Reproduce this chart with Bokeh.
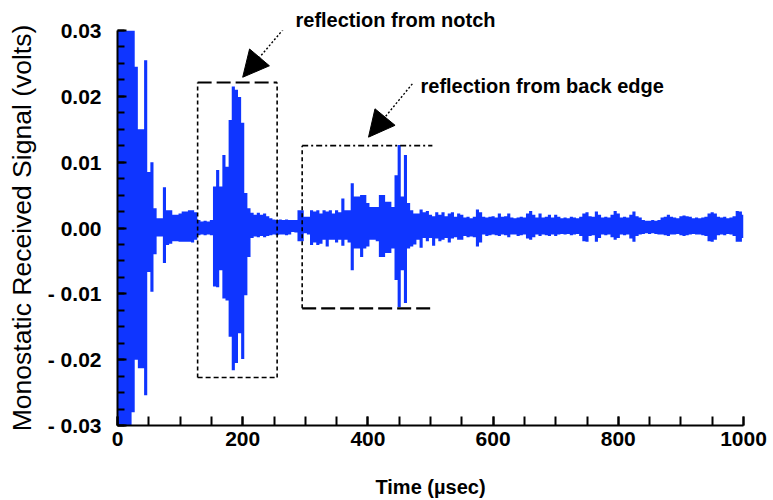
from bokeh.plotting import figure
from bokeh.models import Arrow, NormalHead, Label, FixedTicker, Range1d, Title
from bokeh.embed import file_html
from bokeh.resources import INLINE

# ---------------- data ----------------
TIME_US = list(range(0, 1001, 5))          # sample bins, microseconds

# upper envelope of the received signal in each 5 us bin (volts)
SIG_MAX = [
    0.03, 0.03, 0.03, 0.03, 0.03, 0.03, 0.0245, 0.015, 0.015, 0.0255,
    0.0085, 0.010, 0.003, 0.0015, 0.0015, 0.0062, 0.0027, 0.0027, 0.002, 0.002,
    0.0022, 0.0025, 0.0025, 0.0027, 0.0027, 0.0024, 0.0012, 0.0010, 0.0011, 0.0010,
    0.0012, 0.0063, 0.0088, 0.0063, 0.0111, 0.0093, 0.0164, 0.0215, 0.021, 0.0199,
    0.016, 0.0053, 0.003, 0.0023, 0.0020, 0.0023, 0.0020, 0.0022, 0.0018, 0.0015,
    0.0013, 0.0012, 0.0013, 0.0012, 0.0013, 0.0012, 0.0012, 0.0012, 0.0027, 0.0027,
    0.0017, 0.0017, 0.0027, 0.0025, 0.0027, 0.0022, 0.0027, 0.0025, 0.0027, 0.0022,
    0.0027, 0.0024, 0.0045, 0.0027, 0.0027, 0.0068, 0.0048, 0.0048, 0.005, 0.005,
    0.0038, 0.0032, 0.0032, 0.0032, 0.005, 0.005, 0.004, 0.004, 0.0032, 0.008,
    0.0126, 0.0048, 0.0111, 0.0038, 0.0027, 0.0022, 0.0022, 0.0028, 0.0024, 0.0026,
    0.0020, 0.0018, 0.0024, 0.0020, 0.0024, 0.0018, 0.0022, 0.0024, 0.0017, 0.0022,
    0.0020, 0.0016, 0.0017, 0.0015, 0.0017, 0.0028, 0.0024, 0.0017, 0.0016, 0.0017,
    0.0018, 0.0016, 0.0022, 0.0017, 0.0018, 0.0022, 0.0016, 0.0015, 0.0016, 0.0017,
    0.0016, 0.0022, 0.0026, 0.0020, 0.0016, 0.0022, 0.0016, 0.0017, 0.0020, 0.0016,
    0.0020, 0.0017, 0.0015, 0.0016, 0.0015, 0.0017, 0.0016, 0.0015, 0.0017, 0.0022,
    0.0024, 0.0018, 0.0017, 0.0025, 0.0020, 0.0016, 0.0017, 0.0016, 0.0020, 0.0026,
    0.0022, 0.0016, 0.0017, 0.0016, 0.0020, 0.0025, 0.0018, 0.0016, 0.0012, 0.0011,
    0.0011, 0.0012, 0.0011, 0.0012, 0.0016, 0.0017, 0.0020, 0.0017, 0.0016, 0.0015,
    0.0018, 0.0019, 0.0018, 0.0017, 0.0015, 0.0016, 0.0015, 0.0016, 0.0017, 0.0022,
    0.0024, 0.0022, 0.0017, 0.0016, 0.0017, 0.0015, 0.0016, 0.0018, 0.0026, 0.0025,
    0.0020,
]

# lower envelope of the received signal in each 5 us bin (volts)
SIG_MIN = [
    -0.03, -0.03, -0.03, -0.03, -0.03, -0.028, -0.02, -0.0213, -0.0213, -0.0254,
    -0.0067, -0.0097, -0.004, -0.0013, -0.0013, -0.0053, -0.0026, -0.0024, -0.002, -0.002,
    -0.0021, -0.0021, -0.0021, -0.0021, -0.0022, -0.0018, -0.0011, -0.0010, -0.0011, -0.0010,
    -0.0011, -0.0089, -0.009, -0.0064, -0.0107, -0.011, -0.0165, -0.0216, -0.0205, -0.016,
    -0.0199, -0.0102, -0.0044, -0.0015, -0.0013, -0.0014, -0.0012, -0.0014, -0.0012, -0.0011,
    -0.0010, -0.0011, -0.0010, -0.0010, -0.0011, -0.0010, -0.0006, -0.0007, -0.002, -0.002,
    -0.0008, -0.0010, -0.0026, -0.0022, -0.0026, -0.0024, -0.0018, -0.0028, -0.0018, -0.0018,
    -0.0022, -0.0018, -0.0027, -0.0018, -0.0022, -0.0064, -0.0031, -0.0031, -0.0044, -0.0031,
    -0.0028, -0.0018, -0.0018, -0.0020, -0.0044, -0.0044, -0.0038, -0.0038, -0.0031, -0.0079,
    -0.012, -0.0064, -0.0114, -0.0031, -0.0028, -0.0025, -0.0018, -0.0030, -0.0015, -0.0020,
    -0.0015, -0.0027, -0.0016, -0.0020, -0.0018, -0.0015, -0.0022, -0.0016, -0.0014, -0.0018,
    -0.0018, -0.0012, -0.0014, -0.0013, -0.0014, -0.0028, -0.0022, -0.0010, -0.0012, -0.0011,
    -0.0010, -0.0011, -0.0012, -0.0010, -0.0011, -0.0014, -0.0010, -0.0010, -0.0012, -0.0011,
    -0.0010, -0.0016, -0.0018, -0.0014, -0.0010, -0.0012, -0.0010, -0.0011, -0.0012, -0.0010,
    -0.0012, -0.0010, -0.0009, -0.0010, -0.0009, -0.0011, -0.0010, -0.0009, -0.0012, -0.0020,
    -0.0021, -0.0012, -0.0011, -0.0021, -0.0015, -0.0010, -0.0011, -0.0010, -0.0014, -0.0018,
    -0.0015, -0.0010, -0.0011, -0.0010, -0.0016, -0.0021, -0.0012, -0.0010, -0.0009, -0.0008,
    -0.0009, -0.0008, -0.0009, -0.0010, -0.0010, -0.0011, -0.0012, -0.0010, -0.0010, -0.0009,
    -0.0011, -0.0012, -0.0011, -0.0010, -0.0009, -0.0010, -0.0010, -0.0011, -0.0012, -0.0020,
    -0.0021, -0.0018, -0.0011, -0.0010, -0.0011, -0.0009, -0.0010, -0.0012, -0.0021, -0.0021,
    -0.0015,
]

X_TICKS = [0, 200, 400, 600, 800, 1000]
X_TICK_LABELS = ["0", "200", "400", "600", "800", "1000"]
Y_TICKS = [0.03, 0.02, 0.01, 0.0, -0.01, -0.02, -0.03]
Y_TICK_LABELS = ["0.03", "0.02", "0.01", "0.00", "- 0.01", "- 0.02", "- 0.03"]

X_LABEL = "Time (\u00b5sec)"
Y_LABEL = "Monostatic Received Signal (volts)"
NOTE_NOTCH = "reflection from notch"
NOTE_BACK = "reflection from back edge"

# annotation geometry (data units, notch note offset in px from frame left)
NOTCH_BOX = dict(left=128, right=255, bottom=-0.0227, top=0.0221)
BACK_BOX = dict(left=295, right=503, bottom=-0.0122, top=0.0125)
NOTCH_ARROW = dict(x0=273, y0=0.0311, x1=200, y1=0.0229)
BACK_ARROW = dict(x0=471, y0=0.0219, x1=401, y1=0.0138)
NOTCH_TEXT_OFFSET = 178
BACK_TEXT = dict(x=484, y=0.0216)

BLUE = "#0f35ff"
FONT = "Liberation Sans"

# ---------------- figure ----------------
p = figure(width=773, height=500, output_backend="svg", toolbar_location=None,
           x_range=Range1d(0, 1000), y_range=Range1d(-0.03, 0.03),
           min_border_left=117, min_border_right=30, min_border_top=30,
           min_border_bottom=75)
p.outline_line_color = None
p.grid.visible = False
p.background_fill_color = "white"

p.varea_step(x=TIME_US, y1=SIG_MIN, y2=SIG_MAX, step_mode="center",
             fill_color=BLUE)

# ---- boxes ----
def edge(xs, ys, width, dash):
    p.line(xs, ys, line_color="black", line_width=width, line_dash=dash)

b = NOTCH_BOX
edge([b["left"], b["right"]], [b["top"], b["top"]], 2.2, "14 5")
edge([b["left"], b["right"]], [b["bottom"], b["bottom"]], 1.6, "5 3")
edge([b["left"], b["left"]], [b["bottom"], b["top"]], 1.6, "4 3")
edge([b["right"], b["right"]], [b["bottom"], b["top"]], 1.6, "4 3")

b = BACK_BOX
edge([b["left"], b["right"]], [b["top"], b["top"]], 1.8, "6 3 2 3")
edge([b["left"], b["right"]], [b["bottom"], b["bottom"]], 2.2, "14 5")
edge([b["left"], b["left"]], [b["bottom"], b["top"]], 1.6, "4 3")

# ---- arrows ----
for a in (NOTCH_ARROW, BACK_ARROW):
    p.add_layout(Arrow(end=NormalHead(size=26, fill_color="black", line_color="black"),
                       x_start=a["x0"], y_start=a["y0"], x_end=a["x1"], y_end=a["y1"],
                       line_color="black", line_width=1.4, line_dash="2 2"))

# ---- notes ----
p.add_layout(Title(text=NOTE_NOTCH, align="left", offset=NOTCH_TEXT_OFFSET,
                   text_font=FONT, text_font_style="bold", text_font_size="20px",
                   text_color="black", standoff=0, vertical_align="bottom"),
             "above")
p.add_layout(Label(x=BACK_TEXT["x"], y=BACK_TEXT["y"], text=NOTE_BACK, text_font=FONT,
                   text_font_style="bold", text_font_size="20px",
                   text_color="black", text_align="left",
                   text_baseline="alphabetic"))

# ---- axes ----
xa = p.xaxis[0]
xa.ticker = FixedTicker(ticks=X_TICKS, minor_ticks=list(range(0, 1001, 50)))
xa.major_label_overrides = dict(zip(X_TICKS, X_TICK_LABELS))
xa.axis_label = X_LABEL
xa.axis_label_standoff = 27
xa.major_label_standoff = 6

ya = p.yaxis[0]
ya.ticker = FixedTicker(ticks=Y_TICKS,
                        minor_ticks=[round(-0.03 + 0.0025 * i, 4) for i in range(25)])
ya.major_label_overrides = dict(zip(Y_TICKS, Y_TICK_LABELS))
ya.axis_label = Y_LABEL
ya.axis_label_standoff = 8
ya.major_label_standoff = 16

for ax in (xa, ya):
    ax.axis_line_color = "black"
    ax.axis_line_width = 2
    ax.major_tick_line_color = "black"
    ax.minor_tick_line_color = "black"
    ax.major_tick_line_width = 2
    ax.minor_tick_line_width = 2
    ax.major_tick_out = 0
    ax.minor_tick_out = 0
    ax.major_tick_in = 9
    ax.major_label_text_font = FONT
    ax.major_label_text_font_style = "bold"
    ax.major_label_text_font_size = "21px"
    ax.major_label_text_color = "black"
    ax.axis_label_text_color = "black"
    ax.axis_label_text_font = FONT

xa.minor_tick_in = 9
ya.minor_tick_in = 7
xa.axis_label_text_font_style = "bold"
xa.axis_label_text_font_size = "20px"
ya.axis_label_text_font_style = "normal"
ya.axis_label_text_font_size = "26.5px"

open("out.html", "w").write(file_html(p, INLINE))
